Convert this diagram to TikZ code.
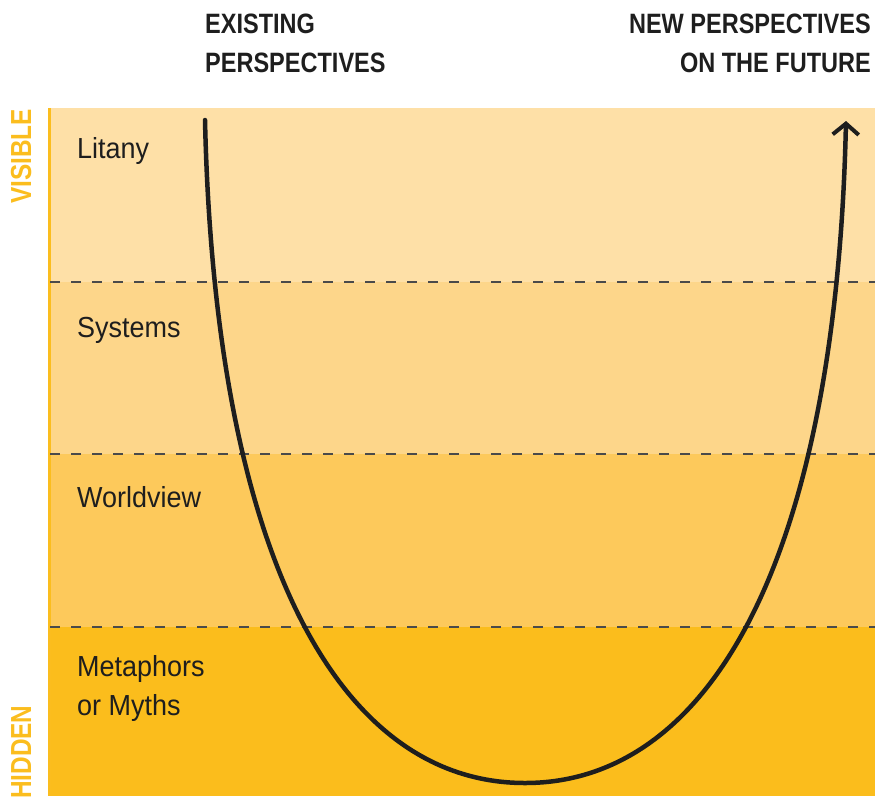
\documentclass[tikz,border=0pt]{standalone}
\usepackage{fontspec}
\setmainfont{Liberation Sans}
\newfontfamily\hdfont[FakeStretch=0.84]{Liberation Sans}
\newfontfamily\lbfont[FakeStretch=0.93]{Liberation Sans}
\usetikzlibrary{arrows.meta}
\definecolor{bandA}{HTML}{FEE0A7}
\definecolor{bandB}{HTML}{FDD68A}
\definecolor{bandC}{HTML}{FDC95B}
\definecolor{bandD}{HTML}{FBBD1C}
\definecolor{gold}{HTML}{FBBD1E}
\definecolor{ink}{HTML}{1E1E1E}
\definecolor{dashgray}{HTML}{4A4A4A}
\tikzset{
  header/.style={font=\hdfont\bfseries\fontsize{28}{39}\selectfont, text=ink, inner sep=0pt, align=left},
  bandlabel/.style={font=\lbfont\fontsize{29}{39}\selectfont, text=ink, inner sep=0pt, anchor=base west, align=left},
  sidelabel/.style={font=\hdfont\bfseries\fontsize{29}{34}\selectfont, text=gold, inner sep=0pt, rotate=90},
  divider/.style={draw=dashgray, line width=2pt, dash pattern=on 10pt off 11pt},
  ucurve/.style={draw=ink, line width=4.5pt, line cap=round}
}
\begin{document}
\begin{tikzpicture}[x=1pt,y=-1pt]
\useasboundingbox (0,0) rectangle (875,796);
% bands
\fill[bandA] (50,108) rectangle (875,282);
\fill[bandB] (50,282) rectangle (875,454);
\fill[bandC] (50,454) rectangle (875,627);
\fill[bandD] (50,627) rectangle (875,796);
\draw[gold, line width=3pt] (49,108) -- (49,796);
% dividers
\draw[divider] (50,282) -- (875,282);
\draw[divider] (50,454) -- (875,454);
\draw[divider] (50,627) -- (875,627);
% labels
\node[bandlabel] (litany) at (77,158) {Litany};
\node[bandlabel] (systems) at (77,337) {Systems};
\node[bandlabel] (worldview) at (77,507) {Worldview};
\node[bandlabel] (meta) at (77,715) {Metaphors\\or Myths};
% headers
\node[header, anchor=base west] (exist) at (205,72) {EXISTING\\PERSPECTIVES};
\node[header, anchor=base east, align=right] (newp) at (871,72) {NEW PERSPECTIVES\\ON THE FUTURE};
% side labels
\node[sidelabel, anchor=base west] (visible) at (31,204) {VISIBLE};
\node[sidelabel, anchor=base west] (hidden) at (31,799) {HIDDEN};
% curve
\coordinate (start) at (205,120);
\coordinate (bottom) at (525,783);
\coordinate (finish) at (846,121);
\draw[ucurve, -{Straight Barb[length=11pt,width=26pt,line width=4pt]}]
  (start) .. controls (215,560) and (340,783) .. (bottom)
          .. controls (710,783) and (836,560) .. (finish);
\end{tikzpicture}
\end{document}
